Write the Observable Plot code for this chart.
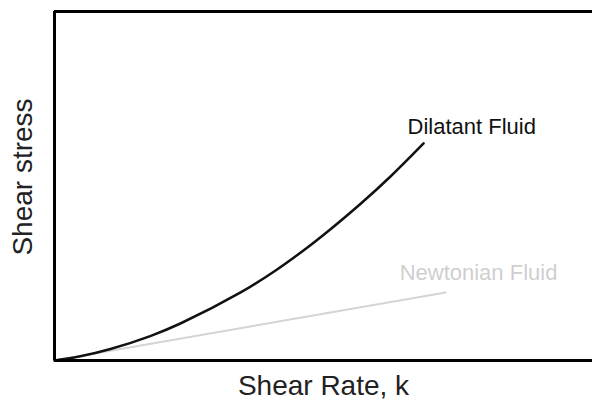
<!DOCTYPE html>
<html>
<head>
<meta charset="utf-8">
<script src="https://cdn.jsdelivr.net/npm/d3@7"></script>
<script src="https://cdn.jsdelivr.net/npm/@observablehq/plot@0.6"></script>
<style>
  html, body { margin: 0; padding: 0; background: #fff; }
  #chart svg { display: block; }
</style>
</head>
<body>
<div id="chart"></div>
<script>
// Dilatant fluid: shear rate vs shear stress (arbitrary units)
const dilatantRate = [0, 4.8, 10.4, 17.8, 23.4, 34.6, 41.1, 47.2, 51.3, 56.9, 62.5, 68.6];
const dilatantStress = [0, 1.2, 3.3, 7.0, 10.6, 19.5, 25.8, 32.6, 37.6, 44.9, 52.8, 62.2];
// Newtonian fluid: straight line
const newtonianRate = [0, 72.7];
const newtonianStress = [0, 19.5];
const seriesNames = ["Dilatant Fluid", "Newtonian Fluid"];
const xLabel = "Shear Rate, k";
const yLabel = "Shear stress";

const dil = dilatantRate.map((x, i) => ({x, y: dilatantStress[i]}));
const newt = newtonianRate.map((x, i) => ({x, y: newtonianStress[i]}));

const font = "'Liberation Sans', Arial, Helvetica, sans-serif";

const chart = Plot.plot({
  width: 592,
  height: 404,
  marginLeft: 54,
  marginRight: 0,
  marginTop: 11,
  marginBottom: 44,
  style: {fontFamily: font, background: "#fff"},
  x: {domain: [0, 100], axis: null},
  y: {domain: [0, 100], axis: null},
  marks: [
    Plot.line(newt, {x: "x", y: "y", stroke: "#d4d4d4", strokeWidth: 2}),
    Plot.line(dil, {x: "x", y: "y", stroke: "#111", strokeWidth: 2.5, curve: "catmull-rom"}),
    Plot.ruleY([0, 100], {stroke: "#000", strokeWidth: 3}),
    Plot.ruleX([0], {stroke: "#000", strokeWidth: 3}),
    Plot.text([dil[dil.length - 1]], {x: "x", y: "y", text: () => seriesNames[0], textAnchor: "start", dx: -16, dy: -16, fontSize: 22, fill: "#111"}),
    Plot.text([newt[newt.length - 1]], {x: "x", y: "y", text: () => seriesNames[1], textAnchor: "start", dx: -46, dy: -19, fontSize: 22, fill: "#cfcfcf"}),
    Plot.text([xLabel], {frameAnchor: "bottom", textAnchor: "middle", dy: 34, fontSize: 28, fill: "#222"}),
    Plot.text([yLabel], {frameAnchor: "left", textAnchor: "middle", rotate: -90, dx: -31, dy: -9, fontSize: 28, fill: "#222"})
  ]
});
document.getElementById("chart").appendChild(chart);
</script>
</body>
</html>
